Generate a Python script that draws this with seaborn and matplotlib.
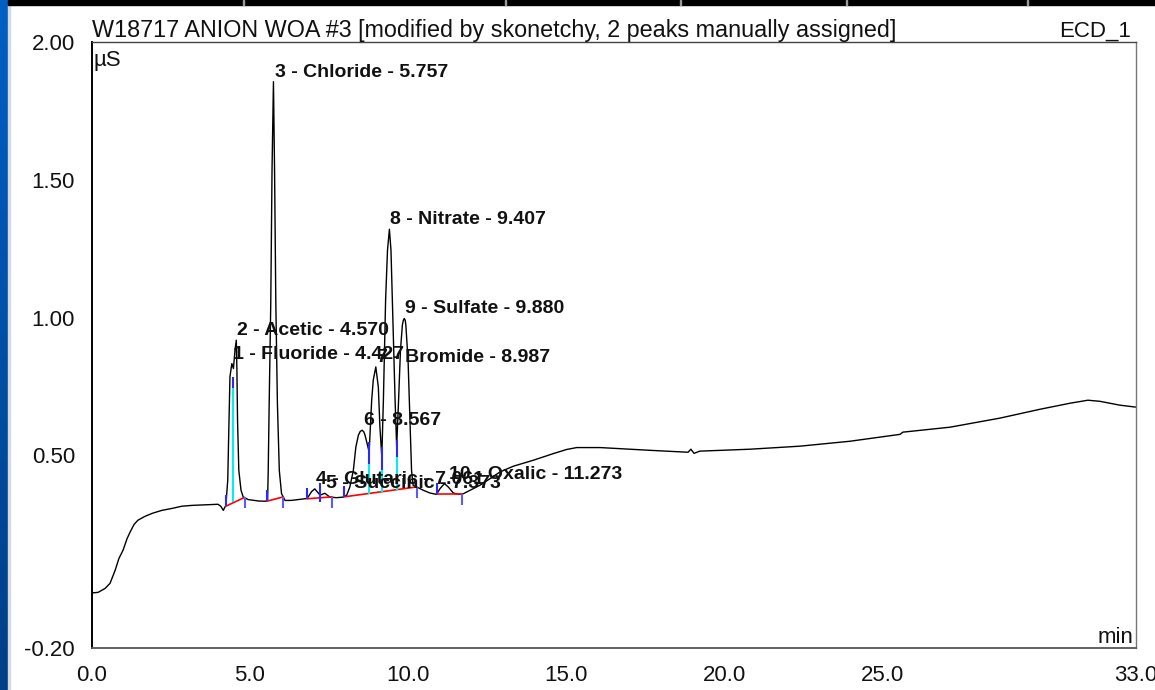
import numpy as np
import pandas as pd
import matplotlib
matplotlib.use("Agg")
import matplotlib.pyplot as plt
import seaborn as sns
from matplotlib.patches import Rectangle
from matplotlib.colors import LinearSegmentedColormap

# ---------------- data ----------------
time_min = [0.00, 0.20, 0.42, 0.58, 0.74, 0.86, 0.99, 1.12, 1.21, 1.34, 1.46, 1.68,
             1.91, 2.22, 2.54, 2.85, 3.17, 3.58, 3.99, 4.08, 4.16, 4.24, 4.30, 4.34,
             4.37, 4.43, 4.48, 4.53, 4.57, 4.59, 4.61, 4.65, 4.72, 4.79, 4.95, 5.27,
             5.48, 5.56, 5.58, 5.61, 5.66, 5.70, 5.745, 5.78, 5.82, 5.87, 5.93, 6.00,
             6.11, 6.30, 6.58, 6.81, 6.95, 7.05, 7.13, 7.22, 7.37, 7.53, 7.74, 7.95,
             8.06, 8.16, 8.27, 8.35, 8.43, 8.49, 8.55, 8.60, 8.64, 8.72, 8.77, 8.85,
             8.90, 8.98, 9.06, 9.11, 9.17, 9.22, 9.29, 9.35, 9.41, 9.46, 9.52, 9.59,
             9.64, 9.70, 9.76, 9.82, 9.85, 9.88, 9.91, 9.93, 10.00, 10.06, 10.11, 10.16,
             10.27, 10.48, 10.69, 10.90, 11.01, 11.15, 11.27, 11.43, 11.59, 11.74, 11.96,
             12.27, 12.59, 12.90, 13.32, 13.96, 14.59, 15.01, 15.33, 16.07, 17.65, 18.85,
             18.94, 19.04, 19.22, 20.80, 22.38, 23.97, 25.55, 25.64, 27.13, 28.71, 29.97,
             30.92, 31.49, 31.87, 32.50, 33.00]
signal_uS = [0.000, 0.002, 0.016, 0.035, 0.082, 0.125, 0.155, 0.198, 0.220, 0.249, 0.264, 0.278,
             0.289, 0.300, 0.307, 0.315, 0.318, 0.320, 0.322, 0.315, 0.300, 0.318, 0.409, 0.627,
             0.785, 0.833, 0.815, 0.882, 0.918, 0.809, 0.627, 0.445, 0.373, 0.348, 0.339, 0.334,
             0.333, 0.336, 0.445, 0.688, 1.052, 1.536, 1.857, 1.536, 1.052, 0.688, 0.445, 0.361,
             0.336, 0.336, 0.340, 0.343, 0.368, 0.378, 0.367, 0.355, 0.362, 0.348, 0.346, 0.348,
             0.355, 0.385, 0.445, 0.530, 0.573, 0.587, 0.591, 0.585, 0.573, 0.536, 0.512, 0.700,
             0.773, 0.821, 0.748, 0.603, 0.494, 0.700, 1.064, 1.245, 1.321, 1.245, 0.991, 0.700,
             0.530, 0.700, 0.882, 0.973, 0.990, 0.997, 0.990, 0.973, 0.845, 0.627, 0.445, 0.391,
             0.385, 0.373, 0.363, 0.358, 0.379, 0.397, 0.385, 0.363, 0.358, 0.360, 0.373,
             0.391, 0.415, 0.439, 0.460, 0.482, 0.506, 0.521, 0.528, 0.528, 0.518, 0.511,
             0.522, 0.507, 0.515, 0.522, 0.533, 0.551, 0.576, 0.584, 0.602, 0.635, 0.667,
             0.689, 0.700, 0.696, 0.682, 0.675]

peak_ids = [1, 2, 3, 4, 5, 6, 7, 8, 9, 10]
peak_names = ["Fluoride", "Acetic", "Chloride", "Glutaric", "Succinic", "",
              "Bromide", "Nitrate", "Sulfate", "Oxalic"]
peak_rt = [4.427, 4.570, 5.757, 7.061, 7.373, 8.567, 8.987, 9.407, 9.880, 11.273]
peak_height = [0.833, 0.918, 1.857, 0.378, 0.362, 0.591, 0.821, 1.321, 0.997, 0.397]

# integration baselines (start time/value, end time/value)
base_t0 = [4.24, 5.53, 6.81, 7.98, 10.90]
base_v0 = [0.315, 0.333, 0.342, 0.349, 0.358]
base_t1 = [4.83, 6.06, 7.60, 10.27, 11.71]
base_v1 = [0.347, 0.349, 0.349, 0.385, 0.358]

# perpendicular drops between fused peaks
drop_t = [4.48, 8.77, 9.17, 9.64]
drop_base = [0.330, 0.361, 0.368, 0.375]
drop_blue_lo = [0.743, 0.470, 0.445, 0.494]
drop_blue_hi = [0.785, 0.548, 0.530, 0.555]
mark_t = [7.22]
mark_lo = [0.330]
mark_hi = [0.400]

x_major = [0, 5, 10, 15, 20, 25, 30, 33]
x_labels = ["0.0", "5.0", "10.0", "15.0", "20.0", "25.0", "", "33.0"]
y_major = [-0.2, 0.0, 0.5, 1.0, 1.5, 2.0]
y_labels = ["-0.20", "", "0.50", "1.00", "1.50", "2.00"]

title = "W18717 ANION WOA #3 [modified by skonetchy, 2 peaks manually assigned]"
channel = "ECD_1"

# ---------------- figure ----------------
sns.set_style("white")
plt.rcParams["font.family"] = ["Liberation Sans", "DejaVu Sans"]

W, H = 1155, 690
fig = plt.figure(figsize=(W / 100, H / 100), dpi=100)
fig.patch.set_facecolor("white")

ax = fig.add_axes([91.7 / W, 1 - 648 / H, (1135.7 - 91.7) / W, (648 - 42.3) / H])

df = pd.DataFrame({"time": time_min, "signal": signal_uS})
sns.lineplot(data=df, x="time", y="signal", ax=ax, color="black", lw=1.0,
             estimator=None, sort=False, zorder=2)

ax.set_xlim(0, 33)
ax.set_ylim(-0.2, 2.0)
ax.set_xlabel("")
ax.set_ylabel("")
ax.set_xticks(x_major)
ax.set_xticklabels(x_labels)
ax.set_xticks(np.arange(0, 34, 1), minor=True)
ax.set_yticks(y_major)
ax.set_yticklabels(y_labels)
ax.set_yticks(np.arange(-0.2, 2.01, 0.1), minor=True)
ax.tick_params(axis="both", which="major", direction="out", length=10.5, width=1.2,
               color="#555555", labelsize=16, pad=1.5, labelcolor="#111111")
ax.tick_params(axis="both", which="minor", direction="out", length=4.8, width=1.1,
               color="#555555")

for side, c, w in [("left", "black", 1.4), ("bottom", "#555555", 1.3),
                   ("top", "#444444", 1.0), ("right", "#777777", 1.0)]:
    ax.spines[side].set_color(c)
    ax.spines[side].set_linewidth(w)
    ax.spines[side].set_visible(True)

# baselines and delimiters
for t0, v0, t1, v1 in zip(base_t0, base_v0, base_t1, base_v1):
    ax.plot([t0, t1], [v0, v1], color="red", lw=1.2, zorder=3)
ax.vlines(base_t0, base_v0, [v + 0.04 for v in base_v0], color="#2a2aff", lw=1.5, zorder=4)
ax.vlines(base_t1, [v - 0.04 for v in base_v1], base_v1, color="#5a5aff", lw=1.5, zorder=4)
ax.vlines(drop_t, drop_base, drop_blue_lo, color="#00f0f0", lw=1.5, zorder=3)
ax.vlines(drop_t, drop_blue_lo, drop_blue_hi, color="#2a2aff", lw=1.5, zorder=4)
ax.vlines(mark_t, mark_lo, mark_hi, color="#2a2aff", lw=1.5, zorder=4)

# peak labels
for pid, name, rt, h in zip(peak_ids, peak_names, peak_rt, peak_height):
    txt = f"{pid} - {name} - {rt:.3f}" if name else f"{pid} - {rt:.3f}"
    ax.annotate(txt, xy=(rt, h), xytext=(1, 5), textcoords="offset pixels",
                ha="left", va="baseline", fontsize=14, fontweight="bold",
                color="#111111", zorder=5, annotation_clip=False)

ax.text(0.002, 0.987, "µS", transform=ax.transAxes, fontsize=16, va="top", ha="left",
        color="#111111")
ax.text(0.9975, 0.008, "min", transform=ax.transAxes, fontsize=16, va="baseline",
        ha="right", color="#111111")

fig.text(91.7 / W, 1 - 37 / H, title, fontsize=16.8, ha="left", va="baseline", color="#111111")
fig.text(1131 / W, 1 - 37 / H, channel, fontsize=16, ha="right", va="baseline", color="#111111")

# window frame pieces (left blue strip, top black bar)
gax = fig.add_axes([0, 0, 8 / W, 1])
gax.imshow(np.linspace(0, 1, 256).reshape(-1, 1), aspect="auto",
           cmap=LinearSegmentedColormap.from_list("strip", ["#0060c4", "#003f86"]))
gax.axis("off")
fig.patches.append(Rectangle((8 / W, 0), 2 / W, 1 - 5 / H, transform=fig.transFigure,
                             color="#d4dae2", zorder=10))
fig.patches.append(Rectangle((8 / W, 1 - 5 / H), 1, 5 / H, transform=fig.transFigure,
                             color="black", zorder=10))
for px in [243, 505, 680, 846, 1027]:
    fig.patches.append(Rectangle((px / W, 1 - 5 / H), 1 / W, 5 / H, transform=fig.transFigure,
                                 color="#9a9a9a", zorder=11))

fig.savefig("out.png", dpi=100)
